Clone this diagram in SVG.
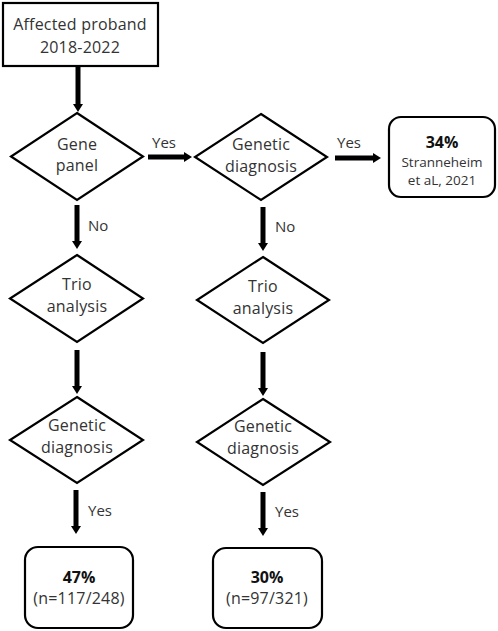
<svg xmlns="http://www.w3.org/2000/svg" width="498" height="631" viewBox="0 0 498 631">
<style>
.bg{fill:#fff}
.shape{fill:#fff;stroke:#000;stroke-width:2.2}
.t{font-family:"Open Sans","Liberation Sans",sans-serif;font-size:16px;fill:#333;text-anchor:middle;letter-spacing:0.2px}
.s{font-family:"Open Sans","Liberation Sans",sans-serif;font-size:13.5px;fill:#333;text-anchor:middle}
.b{font-family:"Open Sans","Liberation Sans",sans-serif;font-size:16px;font-weight:bold;fill:#111;text-anchor:middle}
.lbl{font-family:"Open Sans","Liberation Sans",sans-serif;font-size:15px;fill:#333}
.c{stroke:#000;stroke-width:5;fill:none}
</style>
<defs>
<marker id="ah" markerUnits="userSpaceOnUse" viewBox="0 0 8 10" markerWidth="8" markerHeight="10" refX="0" refY="5" orient="auto">
<path d="M0,0 L8,5 L0,10 z" fill="#000"/>
</marker>
</defs>
<rect class="bg" x="0" y="0" width="498" height="631"/>
<g id="connectors">
<line class="c" x1="78" y1="66" x2="78" y2="104" marker-end="url(#ah)"/>
<line class="c" x1="148" y1="157" x2="184" y2="157" marker-end="url(#ah)"/>
<line class="c" x1="335" y1="158" x2="373" y2="158" marker-end="url(#ah)"/>
<line class="c" x1="77" y1="205" x2="77" y2="241" marker-end="url(#ah)"/>
<line class="c" x1="263" y1="207" x2="263" y2="243" marker-end="url(#ah)"/>
<line class="c" x1="77" y1="350" x2="77" y2="386" marker-end="url(#ah)"/>
<line class="c" x1="263" y1="352" x2="263" y2="388" marker-end="url(#ah)"/>
<line class="c" x1="76" y1="490" x2="76" y2="526" marker-end="url(#ah)"/>
<line class="c" x1="263" y1="492" x2="263" y2="528" marker-end="url(#ah)"/>
<text class="lbl" x="152" y="148">Yes</text>
<text class="lbl" x="337" y="148">Yes</text>
<text class="lbl" x="88" y="231">No</text>
<text class="lbl" x="275" y="232">No</text>
<text class="lbl" x="88" y="516">Yes</text>
<text class="lbl" x="275" y="517">Yes</text>
</g>
<g id="proband">
<rect class="shape" x="3" y="3" width="155" height="63"/>
<text class="t" x="80" y="30">Affected proband</text>
<text class="t" x="80" y="53">2018-2022</text>
</g>
<g id="gene-panel">
<polygon class="shape" points="77,113 143,156.5 77,200 11,156.5"/>
<text class="t" x="77" y="150">Gene</text>
<text class="t" x="77" y="171">panel</text>
</g>
<g id="diag-top">
<polygon class="shape" points="261,114 327,157 261,200 195,157"/>
<text class="t" x="261" y="150">Genetic</text>
<text class="t" x="261" y="172">diagnosis</text>
</g>
<g id="result-top">
<rect class="shape" x="389" y="117" width="106" height="80" rx="12"/>
<text class="b" x="442" y="148">34%</text>
<text class="s" x="442" y="167">Stranneheim</text>
<text class="s" x="442" y="185">et aL, 2021</text>
</g>
<g id="trio-left">
<polygon class="shape" points="77,255 143,298.5 77,342 10,298.5"/>
<text class="t" x="77" y="290">Trio</text>
<text class="t" x="77" y="312">analysis</text>
</g>
<g id="trio-right">
<polygon class="shape" points="263,257 329,300 263,343 197,300"/>
<text class="t" x="263" y="292">Trio</text>
<text class="t" x="263" y="314">analysis</text>
</g>
<g id="diag-left">
<polygon class="shape" points="77,397 143,440 77,483 10,440"/>
<text class="t" x="77" y="431">Genetic</text>
<text class="t" x="77" y="453">diagnosis</text>
</g>
<g id="diag-right">
<polygon class="shape" points="263,399 330,442 263,485 197,442"/>
<text class="t" x="263" y="432">Genetic</text>
<text class="t" x="263" y="454">diagnosis</text>
</g>
<g id="result-left">
<rect class="shape" x="25" y="547" width="108" height="81" rx="13"/>
<text class="b" x="79" y="583">47%</text>
<text class="t" x="79" y="604">(n=117/248)</text>
</g>
<g id="result-right">
<rect class="shape" x="213" y="548" width="109" height="80" rx="13"/>
<text class="b" x="267" y="583">30%</text>
<text class="t" x="267" y="604">(n=97/321)</text>
</g>
</svg>
